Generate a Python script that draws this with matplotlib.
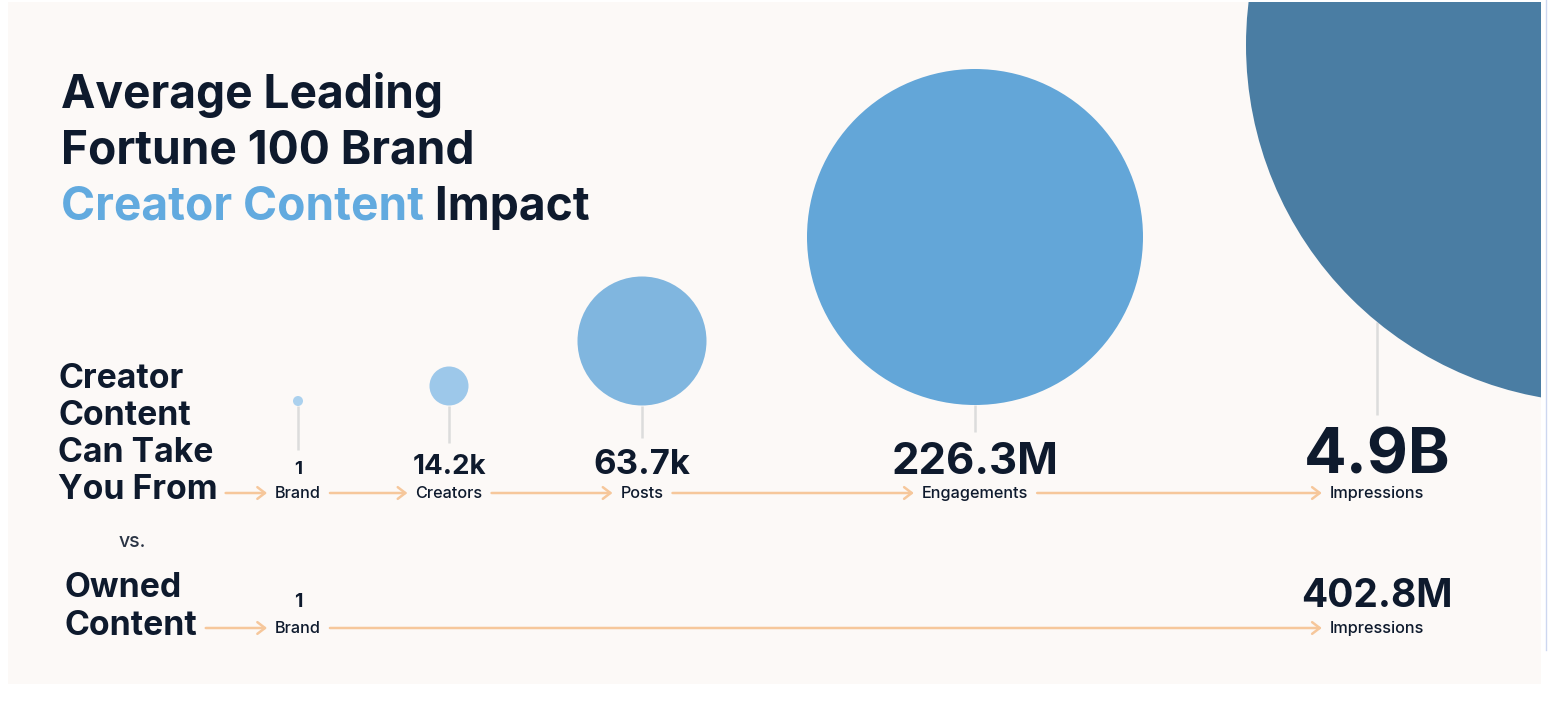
import matplotlib
matplotlib.use("Agg")
import matplotlib.pyplot as plt
from matplotlib.patches import Circle, Rectangle, FancyArrowPatch, ArrowStyle
import numpy as np

# ---------------- data ----------------
stages = ["Brand", "Creators", "Posts", "Engagements", "Impressions"]
creator_values = [1, 14.2e3, 63.7e3, 226.3e6, 4.9e9]
creator_value_labels = ["1", "14.2k", "63.7k", "226.3M", "4.9B"]
owned_stages = ["Brand", "Impressions"]
owned_values = [1, 402.8e6]
owned_value_labels = ["1", "402.8M"]
title_lines = ["Average Leading", "Fortune 100 Brand"]
title_highlight = "Creator Content"
title_tail = " Impact"
creator_row_title = ["Creator", "Content", "Can Take", "You From"]
owned_row_title = ["Owned", "Content"]
vs_text = "vs."

# ---------------- layout / style ----------------
W, H = 1548, 702
NAVY = "#0e1a2d"
BLUE_T = "#62aadf"
ARROW = "#f6c79b"
STEM = "#dcdcdc"
BG = "#fcf9f7"
bubble_colors = ["#abd1ee", "#9dc8ea", "#80b6df", "#63a6d8", "#4a7da3"]
stage_x = [298, 449, 642, 975, 1377]
bubble_cx = [298, 449, 642, 975, 1604]
bubble_cy = [401, 386, 341, 237, 45]
bubble_r = [5, 19.5, 64.5, 168, 358]
stem_bottom = [450, 443, 438, 432, 415]
value_fs = [13.5, 20, 25, 31.5, 45.5]
row1_y, row2_y = 493, 628
value_base1, value_base2 = 474, 607
owned_value_fs = [14, 28]
owned_x = [298, 1377]
TITLE_FS = 33.2
ROW_FS = 24.3
LABEL_FS = 11.7

plt.rcParams["font.family"] = ["Inter", "DejaVu Sans"]

fig = plt.figure(figsize=(W / 100, H / 100), dpi=100, facecolor="white")
ax = fig.add_axes([0, 0, 1, 1])
ax.set_xlim(0, W)
ax.set_ylim(H, 0)
ax.axis("off")

panel = Rectangle((8, 2), 1533, 682, facecolor=BG, edgecolor="none", zorder=0)
ax.add_patch(panel)
ax.plot([1546, 1546], [0, 650], color="#cdd7f0", lw=1, zorder=0)

# title
for i, line in enumerate(title_lines):
    ax.text(61, 108 + 56 * i, line, fontsize=TITLE_FS, fontweight="bold",
            color=NAVY, ha="left", va="baseline")
t_hi = ax.text(61, 220, title_highlight, fontsize=TITLE_FS, fontweight="bold",
               color=BLUE_T, ha="left", va="baseline")
ax.annotate(title_tail, xy=(1, 0), xycoords=t_hi, fontsize=TITLE_FS,
            fontweight="bold", color=NAVY, ha="left", va="bottom")

# bubbles and stems
for i in range(len(stages)):
    c = Circle((bubble_cx[i], bubble_cy[i]), bubble_r[i],
               facecolor=bubble_colors[i], edgecolor="none", zorder=3)
    ax.add_patch(c)
    c.set_clip_path(panel)
    dx = stage_x[i] - bubble_cx[i]
    top = bubble_cy[i] + np.sqrt(bubble_r[i] ** 2 - dx ** 2)
    ax.plot([stage_x[i], stage_x[i]], [top, stem_bottom[i]], color=STEM,
            lw=1.8, zorder=2, solid_capstyle="butt")
    ax.text(stage_x[i], value_base1, creator_value_labels[i],
            fontsize=value_fs[i], fontweight="bold", color=NAVY,
            ha="center", va="baseline", zorder=4)

# row titles
row1_texts = []
for i, line in enumerate(creator_row_title):
    row1_texts.append(ax.text(58, 388 + 37 * i, line, fontsize=ROW_FS,
                              fontweight="bold", color=NAVY, ha="left",
                              va="baseline"))
owned_texts = []
for i, line in enumerate(owned_row_title):
    owned_texts.append(ax.text(65, 597 + 38 * i, line, fontsize=ROW_FS,
                               fontweight="bold", color=NAVY, ha="left",
                               va="baseline"))
ax.text(132, 547, vs_text, fontsize=14, fontweight="medium", color="#2a3444",
        ha="center", va="baseline")

fig.canvas.draw()
renderer = fig.canvas.get_renderer()
inv = ax.transData.inverted()


def xext(t):
    bb = t.get_window_extent(renderer)
    p = inv.transform([[bb.x0, bb.y0], [bb.x1, bb.y1]])
    return min(p[0][0], p[1][0]), max(p[0][0], p[1][0])


style = ArrowStyle("->", head_length=5.5, head_width=4.2)


def arrow(x0, x1, y):
    a = FancyArrowPatch((x0, y), (x1, y), arrowstyle=style, mutation_scale=1,
                        color=ARROW, lw=1.8, shrinkA=0, shrinkB=0, zorder=2)
    ax.add_patch(a)


# row 1 labels and arrows
x_start = xext(row1_texts[-1])[1] + 8
for i, s in enumerate(stages):
    t = ax.text(stage_x[i], row1_y + 5, s, fontsize=LABEL_FS,
                fontweight="medium", color=NAVY, ha="center", va="baseline")
    l, r = xext(t)
    arrow(x_start, l - 8, row1_y)
    x_start = r + 9

# row 2
x_start = xext(owned_texts[-1])[1] + 8
for i, s in enumerate(owned_stages):
    t = ax.text(owned_x[i], row2_y + 5, s, fontsize=LABEL_FS,
                fontweight="medium", color=NAVY, ha="center", va="baseline")
    ax.text(owned_x[i], value_base2, owned_value_labels[i],
            fontsize=owned_value_fs[i], fontweight="bold", color=NAVY,
            ha="center", va="baseline")
    l, r = xext(t)
    arrow(x_start, l - 8, row2_y)
    x_start = r + 9

fig.savefig("out.png", dpi=100, facecolor="white")
